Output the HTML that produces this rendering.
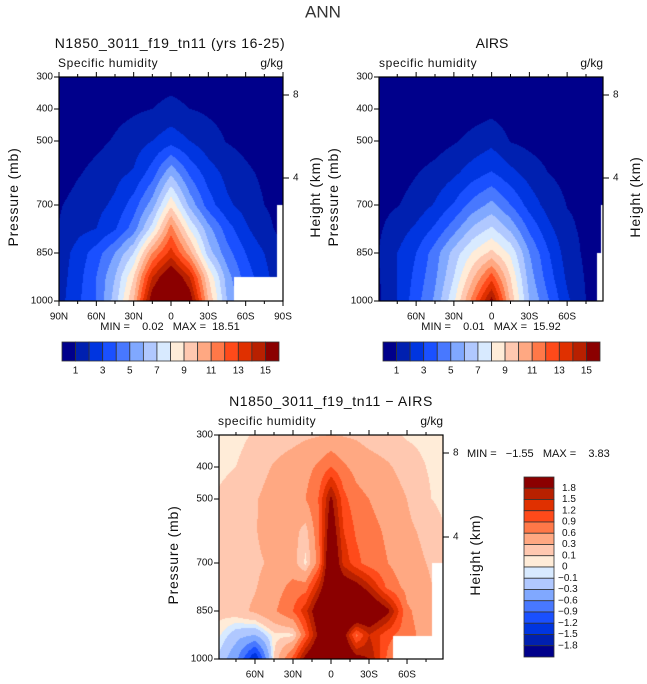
<!DOCTYPE html>
<html><head><meta charset="utf-8">
<style>
html,body{margin:0;padding:0;background:#fff;}
#root{position:relative;width:647px;height:684px;overflow:hidden;font-family:"Liberation Sans",sans-serif;}
canvas{position:absolute;}
svg{position:absolute;left:0;top:0;}
svg text{white-space:pre;}
</style></head>
<body>
<div id="root">
<canvas id="c1"></canvas>
<canvas id="c2"></canvas>
<canvas id="c3"></canvas>
<svg id="ov" width="647" height="684"></svg>
</div>
<script>
// ---------- data ----------
const pressures = [300,400,500,600,700,775,850,925,1000];
const lats15 = [90,75,60,45,30,15,0,-15,-30,-45,-60,-75,-90];
const latsDiff = [90,75,60,45,30,20,10,0,-10,-20,-30,-45,-60,-75,-90];
const humLevels = [1,2,3,4,5,6,7,8,9,10,11,12,13,14,15];
const diffLevels = [-1.8,-1.5,-1.2,-0.9,-0.6,-0.3,-0.1,0,0.1,0.3,0.6,0.9,1.2,1.5,1.8];
const humLabels = ["1","3","5","7","9","11","13","15"];
const diffLabels = ["1.8","1.5","1.2","0.9","0.6","0.3","0.1","0","\u22120.1","\u22120.3","\u22120.6","\u22120.9","\u22121.2","\u22121.5","\u22121.8"];
const palette = ["#00008b","#0020b0","#0035e0","#1a50ff","#4878ff","#80a8ff","#b0c8ff","#d8eaff","#ffecd8","#ffc8b0","#ffa882","#ff7848","#ff4a1a","#e03000","#b82000","#8b0000"];

const modelQ = [
 [.1,.1,.15,.25,.35,.5,.6,.5,.35,.25,.15,.1,.1],
 [.2,.3,.5,.7,.85,1.0,1.3,1.0,.85,.7,.5,.3,.2],
 [.3,.5,.75,1.1,1.5,2.0,2.6,2.0,1.4,.95,.7,.45,.3],
 [.4,.9,1.3,1.7,2.1,3.5,5.8,3.8,2.5,1.7,1.2,.8,.5],
 [.9,1.4,1.7,2.2,3.5,5.5,8.8,5.7,3.5,2.2,1.6,1.0,.8],
 [1.05,1.7,2.0,2.9,4.5,7.5,11.5,8.0,5.4,3.5,2.2,1.2,.8],
 [1.4,2.4,3.5,5.0,7.0,11,13.5,10.5,6.5,4.4,3.0,2.0,.8],
 [1.5,2.6,4,6,9,14,16.5,14,9,5.5,3.5,2.4,1],
 [1.6,2.8,4,6.5,10,16,18.5,16,10,6,4,2.5,1]
];
const airsQ = [
 [.1,.1,.12,.15,.2,.25,.3,.25,.2,.15,.12,.1,.1],
 [.2,.2,.25,.3,.4,.55,.7,.5,.35,.3,.25,.2,.2],
 [.3,.35,.45,.6,.9,1.3,1.7,.95,.7,.5,.4,.3,.25],
 [.5,.6,.95,1.3,1.8,2.5,3.1,2.3,1.6,1.0,.7,.5,.4],
 [.7,.95,1.4,2.1,3.1,4.4,5.3,4.0,2.6,1.6,.97,.8,.6],
 [.85,1.5,2.2,3.2,4.6,6.2,7.2,5.8,3.8,2.3,1.2,.8,.6],
 [1.0,2.0,3.0,4.5,6.4,8.1,9.3,7.8,5.0,3.1,1.5,.8,.5],
 [.9,2.0,3.3,4.8,7.0,9.8,12.5,9.0,5.5,3.5,1.8,.9,.6],
 [.8,2.0,3.6,5.2,7.8,11.5,15.5,9.8,6.0,4.1,2.2,1.0,.5]
];
const diffQ = [
 [.05,.05,.12,.18,.22,.26,.28,.3,.28,.26,.2,.15,.08,.05,.05],
 [.05,.1,.2,.32,.42,.5,.65,.9,.65,.5,.42,.33,.2,.1,.06],
 [.12,.2,.28,.4,.5,.6,.9,1.9,1.0,.7,.6,.45,.3,.12,.05],
 [.15,.22,.28,.45,.4,.2,.8,2.2,1.2,.85,.7,.55,.35,.25,.1],
 [.15,.2,.25,.35,.4,.05,.7,2.5,1.4,1.0,.75,.6,.4,.3,.1],
 [.15,.2,.28,.45,.7,.75,1.5,2.5,2.2,2.0,1.6,.8,.5,.4,.1],
 [.15,.2,.35,.55,.9,1.4,2.2,3.0,3.0,2.8,2.5,1.9,.65,.45,.2],
 [.05,-.2,-.3,.05,.05,.9,1.9,2.6,2.0,.8,1.5,1.0,.7,.5,.2],
 [-.1,-.5,-1.55,.1,1.0,2.0,2.5,2.8,2.5,2.0,1.8,.8,.5,.4,.2]
];
// missing-data regions: [latFrom, latTo, pressureFrom]
const modelMissing = [[-51,-90,926],[-85,-90,700]];
const airsMissing = [[-84,-90,850],[-87,-90,700]];
const diffMissing = [[-49,-90,928],[-80,-90,700]];

// ---------- helpers ----------
const NS = "http://www.w3.org/2000/svg";
const ov = document.getElementById("ov");
function mk(tag, attrs, parent){ const e=document.createElementNS(NS,tag); for(const k in attrs) e.setAttribute(k,attrs[k]); (parent||ov).appendChild(e); return e; }
function txt(s,x,y,size,anchor,name,rot){
  const t=mk("text",{x:x,y:y,"font-size":size,"text-anchor":anchor||"middle","dominant-baseline":"central",fill:"#111","font-family":"Liberation Sans, sans-serif"});
  if(rot) t.setAttribute("transform","rotate(-90 "+x+" "+y+")");
  t.textContent=s;
  
  
  return t;
}
function hex(c){return [parseInt(c.substr(1,2),16),parseInt(c.substr(3,2),16),parseInt(c.substr(5,2),16)];}
const palRGB = palette.map(hex);
function findIdx(arr, v, desc){
  for(let i=0;i<arr.length-1;i++){
    const a=arr[i], b=arr[i+1];
    if(desc ? (v<=a && v>=b) : (v>=a && v<=b)) return i;
  }
  return desc ? (v>arr[0]?0:arr.length-2) : (v<arr[0]?0:arr.length-2);
}
function interp(lats, grid, lat, p){
  const i=findIdx(lats,lat,true), j=findIdx(pressures,p,false);
  let tx=(lats[i]-lat)/(lats[i]-lats[i+1]); tx=Math.max(0,Math.min(1,tx));
  let ty=(p-pressures[j])/(pressures[j+1]-pressures[j]); ty=Math.max(0,Math.min(1,ty));
  const a=grid[j][i], b=grid[j][i+1], c=grid[j+1][i], d=grid[j+1][i+1];
  return (a*(1-tx)+b*tx)*(1-ty)+(c*(1-tx)+d*tx)*ty;
}
function fill(id, P, lats, grid, levels, missing){
  const cv=document.getElementById(id);
  cv.width=P.w; cv.height=P.h; cv.style.left=P.x+"px"; cv.style.top=P.y+"px";
  const ctx=cv.getContext("2d"); const img=ctx.createImageData(P.w,P.h);
  for(let r=0;r<P.h;r++){
    const p=300+(r+0.5)/P.h*700;
    for(let c=0;c<P.w;c++){
      const lat=P.latL+(c+0.5)/P.w*(P.latR-P.latL);
      let miss=false;
      for(const m of missing){ if(lat<=m[0] && lat>=m[1] && p>=m[2]) miss=true; }
      const k=(r*P.w+c)*4;
      if(miss){img.data[k]=255;img.data[k+1]=255;img.data[k+2]=255;img.data[k+3]=255;continue;}
      const v=interp(lats,grid,lat,p);
      let ci=0; for(const L of levels){ if(v>=L) ci++; }
      const col=palRGB[ci];
      img.data[k]=col[0];img.data[k+1]=col[1];img.data[k+2]=col[2];img.data[k+3]=255;
    }
  }
  ctx.putImageData(img,0,0);
}
function axes(P, tag, xlabels){
  const xOf=lat=>P.x+(lat-P.latL)/(P.latR-P.latL)*P.w;
  const yOf=p=>P.y+(p-300)/700*P.h;
  mk("rect",{x:P.x,y:P.y,width:P.w,height:P.h,fill:"none",stroke:"#000","stroke-width":1.2,});
  for(let lat=90;lat>=-90;lat-=15){
    if(lat>Math.max(P.latL,P.latR)+0.01||lat<Math.min(P.latL,P.latR)-0.01) continue;
    const x=xOf(lat), L=(lat%30===0)?5:3;
    mk("line",{x1:x,y1:P.y+P.h,x2:x,y2:P.y+P.h+L,stroke:"#000","stroke-width":1});
    mk("line",{x1:x,y1:P.y,x2:x,y2:P.y-L,stroke:"#000","stroke-width":1});
  }
  xlabels.forEach(function(s){
    const lat = s==="0"?0:(parseInt(s)*(s.endsWith("S")?-1:1));
    txt(s,xOf(lat),P.y+P.h+16,10,"middle",tag+"-x-tick-"+s.toLowerCase());
  });
  pressures.filter(p=>[300,400,500,700,850,1000].includes(p)).forEach(function(p){
    const y=yOf(p);
    mk("line",{x1:P.x-5,y1:y,x2:P.x,y2:y,stroke:"#000","stroke-width":1});
    txt(String(p),P.x-6,y,10,"end",tag+"-y-tick-"+p);
  });
  [["8",P.h8],["4",P.h4]].forEach(function(h){
    mk("line",{x1:P.x+P.w,y1:h[1],x2:P.x+P.w+6,y2:h[1],stroke:"#000","stroke-width":1});
    txt(h[0],P.x+P.w+10,h[1],10,"start",tag+"-height-tick-"+h[0]);
  });
  const ta=txt("Pressure (mb)",P.x-46,P.y+P.h*0.375+36,14,"middle",tag+"-y-axis-title",true);
  ta.setAttribute("letter-spacing","0.8");
  const tb=txt("Height (km)",P.x+P.w+32,P.y+P.h*0.375+36,14,"middle",tag+"-right-axis-title",true);
  tb.setAttribute("letter-spacing","0.8");
}
function hbar(x0,y0,w,h,tag){
  const bw=w/16;
  for(let i=0;i<16;i++){
    const r=mk("rect",{x:x0+i*bw,y:y0,width:bw,height:h,fill:palette[i],stroke:"#333","stroke-width":0.8});
    
    
  }
  humLabels.forEach(function(s,i){ txt(s,x0+(2*i+1)*bw,y0+h+10,10,"middle",tag+"-colorbar-label"); });
}

// ---------- panels ----------
const P1={x:59,y:77,w:224,h:224,latL:90,latR:-90,h8:95,h4:178};
const P2={x:379,y:77,w:224,h:224,latL:89.5,latR:-88.5,h8:95,h4:178};
const P3={x:219,y:435,w:224,h:224,latL:88.4,latR:-88.4,h8:453,h4:537};
fill("c1",P1,lats15,modelQ,humLevels,modelMissing);
fill("c2",P2,lats15,airsQ,humLevels,airsMissing);
fill("c3",P3,latsDiff,diffQ,diffLevels,diffMissing);

txt("ANN",323,12,17,"middle","figure-title").setAttribute("fill","#333");
txt("N1850_3011_f19_tn11 (yrs 16-25)",170,43,14,"middle","model-panel-title").setAttribute("letter-spacing","0.6");
txt("Specific humidity",58,63,12,"start","model-variable-label").setAttribute("letter-spacing","0.6");
txt("g/kg",283,63,12,"end","model-units-label");
axes(P1,"model",["90N","60N","30N","0","30S","60S","90S"]);
txt("MIN =    0.02   MAX =  18.51",170,327,11,"middle","model-min-max");
hbar(62,342,217,19,"model");

txt("AIRS",492,43,14,"middle","airs-panel-title");
txt("specific humidity",379,63,12,"start","airs-variable-label").setAttribute("letter-spacing","0.6");
txt("g/kg",603,63,12,"end","airs-units-label");
axes(P2,"airs",["60N","30N","0","30S","60S"]);
txt("MIN =    0.01   MAX =  15.92",491,327,11,"middle","airs-min-max");
hbar(383,342,217,19,"airs");

txt("N1850_3011_f19_tn11 \u2212 AIRS",331,401,14,"middle","difference-panel-title").setAttribute("letter-spacing","0.6");
txt("specific humidity",218,421,12,"start","difference-variable-label").setAttribute("letter-spacing","0.6");
txt("g/kg",443,421,12,"end","difference-units-label");
axes(P3,"difference",["60N","30N","0","30S","60S"]);
txt("MIN =   \u22121.55   MAX =    3.83",467,454,11,"start","difference-min-max");
(function(){
  const x0=524,y0=477,w=30,h=180,bh=h/16;
  for(let i=0;i<16;i++){
    const r=mk("rect",{x:x0,y:y0+i*bh,width:w,height:bh,fill:palette[15-i],stroke:"#333","stroke-width":0.8});
    
    
  }
  diffLabels.forEach(function(s,i){ txt(s,s.startsWith("\u2212")?558:562,y0+(i+1)*bh,10,"start","difference-colorbar-label"); });
})();
</script>
</body></html>
